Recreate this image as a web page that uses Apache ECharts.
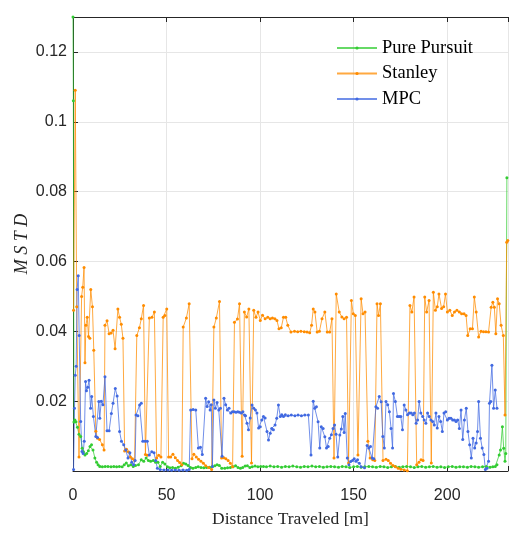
<!DOCTYPE html>
<html>
<head>
<meta charset="utf-8">
<script src="https://cdn.jsdelivr.net/npm/echarts@6/dist/echarts.min.js"></script>
<style>
  html, body { margin: 0; padding: 0; background: #fff; overflow: hidden; }
  #chart { width: 511px; height: 533px; }
</style>
</head>
<body>
<div id="chart"></div>
<script>
// Pure Pursuit tracking error (MSTD) vs distance travelled
const ppDist = [0, 0.2, 0.5, 1.0, 1.6, 2.4, 3.2, 4.1, 4.9, 5.6, 6.4, 7.3, 8.2, 9.1, 9.9, 10.7, 11.7, 12.6, 13.4, 14.3,
  15.7, 17.2, 18.7, 20.3, 21.8, 23.3, 24.8, 26.3, 27.4, 28.5, 29.6, 30.9, 32.2, 33.4, 35.0, 36.5, 37.8, 39.1, 40.3,
  41.5, 42.9, 44.1, 45.4, 46.6, 47.9, 49.1, 50.5, 51.7, 53.2, 54.7, 56.2, 57.8, 59.1, 60.3, 61.5, 62.8, 64.1, 65.6,
  66.9, 68.4, 69.9, 71.4, 73.0, 74.5, 75.8, 77.0, 78.2, 79.5, 81.1, 82.6, 84.1, 85.6, 86.9, 88.2, 89.5, 90.7, 92.0,
  93.2, 94.5, 95.8, 97.3, 98.8, 100.3, 101.8,
  103.4, 105.4, 107.4, 109.4, 111.5, 113.5, 115.5, 117.5, 119.6, 121.6,
  123.6, 125.6, 127.7, 129.7, 131.7, 133.8, 135.8, 137.8, 139.8, 141.9,
  143.9, 145.9, 147.9, 150.0, 152.0, 154.0, 156.0, 158.1, 160.1, 162.1,
  164.2, 166.2, 168.2, 170.2, 172.3, 174.3, 176.3, 178.3, 180.4, 182.4,
  184.4, 186.4, 188.5, 190.5, 192.5, 194.6, 196.6, 198.6, 200.6, 202.7,
  204.7, 206.7, 208.7, 210.8, 212.8, 214.8, 216.8, 218.9, 220.9, 222.9,
  224.4, 225.7, 226.6, 227.8, 228.5, 229.5, 230.2, 230.9, 231.3, 231.9];
const ppVal = [0.130, 0.106, 0.014, 0.0146, 0.0141, 0.0125, 0.0105, 0.0099, 0.0065, 0.0055, 0.0046, 0.0050, 0.0058,
  0.0070, 0.0075, 0.0060, 0.0037, 0.0025, 0.0018, 0.0013,
  0.0012, 0.0013, 0.0013, 0.0012, 0.0013, 0.0012, 0.0013, 0.0012, 0.0018, 0.0023, 0.0015, 0.0018, 0.0013, 0.0016,
  0.0018, 0.0032, 0.0028, 0.0037, 0.0030,
  0.0028, 0.0030, 0.0025, 0.0025, 0.0013, 0.0025, 0.0020, 0.0012, 0.0009, 0.0010, 0.0008, 0.0011, 0.0015, 0.0022,
  0.0020, 0.0016, 0.0010, 0.0008, 0.0010,
  0.0012, 0.0010, 0.0009, 0.0010, 0.0011, 0.0012, 0.0015, 0.0018, 0.0016, 0.0008, 0.0008, 0.0009, 0.0010, 0.0012,
  0.0015, 0.0010, 0.0008, 0.0010, 0.0014,
  0.0015, 0.0010, 0.0012, 0.0014, 0.0012, 0.0013, 0.0013,
  0.0012, 0.0014, 0.0012, 0.0013, 0.0011, 0.0013, 0.0012, 0.0014, 0.0012, 0.0011,
  0.0013, 0.0012, 0.0014, 0.0012, 0.0013, 0.0011, 0.0012, 0.0013, 0.0012, 0.0011,
  0.0013, 0.0012, 0.0010, 0.0012, 0.0013, 0.0011, 0.0012, 0.0013, 0.0012, 0.0011,
  0.0013, 0.0012, 0.0010, 0.0012, 0.0013, 0.0011, 0.0012, 0.0013, 0.0012, 0.0010,
  0.0012, 0.0013, 0.0011, 0.0012, 0.0013, 0.0011, 0.0012, 0.0010, 0.0012, 0.0013,
  0.0011, 0.0012, 0.0012, 0.0011, 0.0013, 0.0012, 0.0011, 0.0012, 0.0013, 0.0011,
  0.0012, 0.0013, 0.0018, 0.0046, 0.0060, 0.0127, 0.0065, 0.0028, 0.0050, 0.084];

// Stanley controller
const stDist = [0.3, 1.2, 2.0, 3.2, 4.6, 5.2, 5.9, 6.4, 6.9, 7.6, 8.3, 9.0, 9.5, 10.4, 11.1, 12.2, 13.1, 14.2, 15.7,
  16.6, 17.1, 18.2, 19.3, 20.4, 21.4, 22.5, 24.0, 24.9, 25.8, 26.7, 27.6, 28.6, 29.6, 30.7, 31.8, 32.9, 34.1, 35.5,
  36.5, 37.7, 38.7, 39.7, 40.8, 42.2, 43.5, 44.7, 45.8, 47.0, 48.2, 49.1, 50.1, 51.1, 52.2, 53.4, 54.7, 55.9, 57.0,
  58.2, 58.9, 60.6, 62.1, 63.6, 64.6, 65.9, 67.1, 68.4, 69.7, 70.9, 72.5, 74.1, 75.3, 76.6, 78.3, 79.4, 80.6, 81.7,
  82.9, 84.1, 85.3, 86.3, 87.9, 89.0, 90.4, 91.6, 92.8, 94.0, 95.4, 96.6, 97.8, 98.9, 100.1, 101.3, 102.7, 104.1,
  105.4, 106.6, 107.9, 109.0, 110.1, 111.3, 112.5, 113.7, 114.8, 116.5, 118.4, 120.1, 121.8, 123.6, 125.1, 126.5,
  127.5, 128.4, 129.3, 130.5, 131.7, 133.1, 134.6, 135.9, 137.2, 138.4, 139.5, 140.7, 142.3, 143.7, 144.9, 146.2,
  147.3, 148.8, 149.8, 150.9, 152.3, 154.0, 155.0, 156.1, 157.6, 158.8, 160.2, 161.3, 162.5, 163.3, 164.3, 165.7,
  167.3, 168.5, 169.7, 171.0, 172.3, 173.8, 175.3, 177.0, 178.7, 180.1, 181.1, 182.3, 183.7, 184.9, 186.0, 187.1,
  188.0, 189.0, 190.3, 191.5, 192.6, 193.7, 194.7, 195.6, 197.0, 198.1, 199.1, 200.1, 201.4, 202.7, 203.9, 205.2,
  206.5, 207.7, 209.0, 210.1, 211.0, 212.3, 213.5, 214.5, 215.5, 216.8, 218.1, 219.4, 220.7, 222.1, 223.5, 224.4,
  225.2, 226.0, 226.9, 227.8, 228.8, 230.0, 230.9, 231.8, 232.4];
const stVal = [0.046, 0.109, 0.047, 0.004, 0.050, 0.0526, 0.0583, 0.031, 0.0417, 0.044, 0.0385, 0.038, 0.052, 0.047,
  0.0346, 0.0114, 0.0094, 0.009, 0.0075,
  0.006, 0.0417, 0.043, 0.0393, 0.0395, 0.0403, 0.035, 0.0464, 0.044, 0.042, 0.038, 0.0057, 0.0062, 0.0055, 0.004,
  0.0035, 0.003, 0.0388, 0.041,
  0.0436, 0.0474, 0.0047, 0.0045, 0.0438, 0.0440, 0.0455, 0.0037, 0.0045, 0.004, 0.044, 0.0445, 0.0464, 0.004,
  0.0040, 0.0048, 0.0038, 0.0030, 0.0024,
  0.0018, 0.0412, 0.0438, 0.0479, 0.0035, 0.0048, 0.0040, 0.0034, 0.0028, 0.0022, 0.0015, 0.0010, 0.0004, 0.0412,
  0.0438, 0.0485, 0.0037, 0.0038, 0.0035,
  0.0030, 0.0022, 0.0012, 0.0426, 0.0435, 0.0479, 0.0042, 0.0455, 0.0441, 0.0464, 0.0023, 0.046, 0.044, 0.0455,
  0.0431, 0.0446, 0.0436, 0.0440,
  0.0436, 0.0438, 0.0436, 0.0431, 0.0407, 0.0410, 0.0440, 0.0440, 0.0417, 0.0398, 0.0400, 0.0399, 0.0400, 0.0399,
  0.0398, 0.0396,
  0.0417, 0.0464, 0.0455, 0.0398, 0.0400, 0.0436, 0.0455, 0.0398, 0.0398, 0.0436, 0.0037, 0.0507, 0.0455, 0.0441,
  0.0436, 0.0440,
  0.0023, 0.0488, 0.0450, 0.0445, 0.0046, 0.0493, 0.0450, 0.0455, 0.0085, 0.0037, 0.0032, 0.0030, 0.0479, 0.0445,
  0.0479, 0.0030,
  0.0034, 0.0030, 0.0022, 0.0016, 0.0012, 0.0008, 0.0005, 0.0003, 0.0001, 0.0474, 0.0455, 0.0498, 0.0018, 0.0025,
  0.0032, 0.0030,
  0.0498, 0.0455, 0.0488, 0.0023, 0.0512, 0.0460, 0.0470, 0.0507, 0.0465, 0.0470, 0.0507, 0.0455, 0.0460, 0.0445,
  0.0455, 0.0460,
  0.0455, 0.0450, 0.0450, 0.0445, 0.0388, 0.0407, 0.0407, 0.0498, 0.0455, 0.0384, 0.0400, 0.0399, 0.0399, 0.0398,
  0.0469, 0.0483,
  0.0469, 0.0393, 0.0493, 0.0479, 0.0417, 0.0388, 0.0160, 0.0655, 0.066];

// Model predictive control
const mpcDist = [0.3, 0.8, 1.2, 1.7, 2.2, 2.8, 3.3, 4.1, 4.8, 5.4, 6.0, 6.7, 7.2, 7.9, 8.6, 9.4, 10.0, 10.9, 12.2,
  13.1, 13.8, 14.3, 15.1, 16.0, 17.1, 18.2, 19.3, 20.5, 21.4, 22.6, 23.6, 24.9, 25.9, 27.1, 28.2, 29.4, 30.4, 31.4,
  32.4, 33.2, 33.7, 34.7, 35.6, 36.5, 37.3, 38.5, 39.7, 40.8, 42.1, 43.3, 44.2, 45.1, 46.6, 48.6, 50.7, 52.7, 54.7,
  56.7, 58.8, 60.8, 62.1, 62.9, 64.2, 65.6, 67.0, 68.1, 69.1, 70.9, 71.7, 72.5, 73.3, 73.9, 74.5, 75.3, 76.1, 77.0,
  77.9, 78.8, 79.7, 80.7, 81.6, 82.5, 83.4, 84.3, 85.2, 86.1, 87.1, 88.1, 89.0, 89.9, 90.8, 91.7, 92.2, 93.0, 93.8,
  94.7, 95.7, 96.6, 97.5, 98.3, 99.2, 100.1, 100.9, 101.8, 102.7, 103.7, 104.5, 105.4, 106.2, 107.1, 108.0, 108.9,
  109.8, 110.8, 111.6, 112.5, 113.5, 115.0, 116.7, 118.6, 120.3, 122.1, 123.9, 125.8, 127.2, 128.4, 129.2, 130.1,
  131.0, 131.9, 132.7, 133.7, 134.6, 135.5, 136.4, 137.2, 138.1, 139.0, 139.8, 140.6, 141.5, 142.6, 143.4, 144.2,
  144.9, 145.5, 146.6, 147.5, 148.4, 149.4, 150.3, 151.2, 152.1, 153.0, 154.0, 155.8, 157.2, 158.1, 159.0, 159.9,
  160.8, 161.9, 162.8, 163.7, 164.7, 165.6, 166.4, 167.3, 168.2, 169.1, 170.0, 170.8, 171.3, 172.3, 173.4, 174.3,
  175.2, 176.1, 177.0, 177.9, 178.8, 179.8, 180.7, 181.6, 182.5, 183.4, 184.2, 185.0, 185.9, 186.9, 187.7, 188.6,
  189.5, 190.4, 191.3, 192.2, 193.1, 194.0, 194.7, 195.6, 196.5, 197.4, 198.3, 199.2, 200.1, 201.0, 202.0, 202.9,
  203.8, 204.7, 205.6, 206.5, 207.4, 208.3, 209.2, 210.2, 211.1, 212.0, 212.9, 213.8, 214.7, 215.5, 216.2, 216.8,
  217.8, 218.7, 219.6, 220.4, 221.3, 222.1, 222.6, 223.3, 223.9, 224.8, 225.7, 226.6];
const mpcVal = [0.0004, 0.018, 0.0274, 0.030, 0.052, 0.0559, 0.0388, 0.0142, 0.0056, 0.0050, 0.0085, 0.0256, 0.0230,
  0.0240, 0.0260, 0.0180, 0.0213, 0.0156, 0.0099,
  0.0096, 0.0199, 0.0151, 0.0200, 0.0190, 0.0270, 0.0115, 0.0115, 0.0165, 0.0194, 0.0236, 0.0215, 0.0113, 0.0085,
  0.0075, 0.0060, 0.0037, 0.0052, 0.0025,
  0.0018, 0.0030, 0.0160, 0.0158, 0.0189, 0.0194, 0.0085, 0.0085, 0.0085, 0.0046, 0.0055, 0.0052, 0.0030, 0.0008,
  0.0004, 0.0003, 0.0003, 0.0002, 0.0003,
  0.0002, 0.0003, 0.0002, 0.0004, 0.0175, 0.0176, 0.0175, 0.0066, 0.0068, 0.0047, 0.0208, 0.0185, 0.0198, 0.0175,
  0.0190, 0.0013, 0.0203, 0.0180, 0.0196,
  0.0175, 0.0180, 0.0042, 0.0208, 0.0190, 0.0175, 0.0180, 0.0166, 0.0170, 0.0170, 0.0168, 0.0170, 0.0168, 0.0166,
  0.0170, 0.0160, 0.0158, 0.0137, 0.0118,
  0.0152, 0.0189, 0.0180, 0.0175, 0.0166, 0.0123, 0.0127, 0.0146, 0.0156, 0.0152, 0.0113, 0.0089, 0.0108, 0.0122,
  0.0118, 0.0132, 0.0151,
  0.0189, 0.0156, 0.0161, 0.0156, 0.0161, 0.0158, 0.0160, 0.0158, 0.0160, 0.0158, 0.0160, 0.0160, 0.0046, 0.0200,
  0.0180, 0.0184,
  0.0141, 0.0066, 0.0127, 0.0122, 0.0098, 0.0066, 0.0070, 0.0094, 0.0104, 0.0122, 0.0132, 0.0105, 0.0040, 0.0103,
  0.0120, 0.0156,
  0.0110, 0.0165, 0.0037, 0.0018, 0.0027, 0.0030, 0.0035, 0.0028, 0.0032, 0.0022, 0.0012, 0.0009, 0.0073, 0.0066,
  0.0070, 0.0037,
  0.0035, 0.0184, 0.0180, 0.0213, 0.0198, 0.0099, 0.0066, 0.0199, 0.0190, 0.0170, 0.0122, 0.0066, 0.0222, 0.0199,
  0.0156, 0.0156,
  0.0156, 0.0118, 0.0189, 0.0175, 0.0161, 0.0166, 0.0166, 0.0161, 0.0166, 0.0137, 0.0146, 0.0199, 0.0166, 0.0156,
  0.0146, 0.0137,
  0.0166, 0.0156, 0.0146, 0.0142, 0.0132, 0.0166, 0.0123, 0.0156, 0.0142, 0.0113, 0.0166, 0.0170, 0.0146, 0.0151,
  0.0151, 0.0146,
  0.0146, 0.0142, 0.0146, 0.0122, 0.0175, 0.0090, 0.0146, 0.0180, 0.0113, 0.0075, 0.0037, 0.0094, 0.0066, 0.0080,
  0.0113, 0.0199,
  0.0094, 0.0066, 0.0047, 0.0004, 0.0008, 0.0028, 0.0194, 0.0199, 0.0303, 0.0180, 0.0232, 0.0180];

const seriesNames = ['Pure Pursuit', 'Stanley', 'MPC'];
const seriesColors = ['#33cc33', '#ff8c00', '#4169e1'];
const xTicks = [0, 50, 100, 150, 200];
const yTicks = [0.02, 0.04, 0.06, 0.08, 0.1, 0.12];

const X_MAX = 232.5;
const Y_MAX = 0.13;
const axisColor = '#262626';
const gridColor = '#e6e6e6';

function pairs(xs, ys) {
  const n = Math.min(xs.length, ys.length);
  const out = [];
  for (let i = 0; i < n; i++) out.push([xs[i], ys[i]]);
  return out;
}

function lineSeries(name, color, data) {
  return {
    name: name,
    type: 'line',
    data: data,
    symbol: 'circle',
    symbolSize: 3,
    showAllSymbol: true,
    clip: true,
    animation: false,
    lineStyle: { color: color, width: 1, opacity: 0.75 },
    itemStyle: { color: color },
    emphasis: { disabled: true }
  };
}

const chart = echarts.init(document.getElementById('chart'), null, { renderer: 'canvas', width: 511, height: 533 });

chart.setOption({
  animation: false,
  backgroundColor: '#ffffff',
  grid: { left: 73, right: 0, top: 17, bottom: 60, containLabel: false },
  legend: {
    orient: 'vertical',
    left: 336,
    top: 38,
    padding: 0,
    itemWidth: 40,
    itemHeight: 4,
    itemGap: 5.5,
    data: seriesNames,
    textStyle: { fontFamily: 'Liberation Serif', fontSize: 18.5, color: '#000', lineHeight: 20 }
  },
  xAxis: [
    {
      type: 'value',
      min: 0,
      max: X_MAX,
      interval: 50,
      position: 'bottom',
      name: 'Distance Traveled [m]',
      nameLocation: 'middle',
      nameGap: 39,
      nameMoveOverlap: false,
      nameTextStyle: { fontFamily: 'Liberation Serif', fontSize: 17.5, color: '#262626' },
      axisLine: { show: true, lineStyle: { color: axisColor, width: 1 } },
      axisTick: { show: true, inside: true, length: 5, lineStyle: { color: axisColor } },
      axisLabel: {
        margin: 17,
        fontFamily: 'Liberation Sans',
        fontSize: 16,
        color: '#262626',
        formatter: v => (xTicks.indexOf(v) >= 0 ? String(v) : '')
      },
      splitLine: { show: true, lineStyle: { color: gridColor, width: 1 } }
    },
    {
      type: 'value',
      min: 0,
      max: X_MAX,
      interval: 50,
      position: 'top',
      axisLine: { show: true, lineStyle: { color: axisColor, width: 1 } },
      axisTick: { show: true, inside: true, length: 5, lineStyle: { color: axisColor } },
      axisLabel: { show: false },
      splitLine: { show: false }
    }
  ],
  yAxis: {
    type: 'value',
    min: 0,
    max: Y_MAX,
    interval: 0.02,
    name: 'M S T D',
    nameLocation: 'middle',
    nameRotate: 90,
    nameGap: 42,
    nameMoveOverlap: false,
    nameTextStyle: { fontFamily: 'Liberation Serif', fontStyle: 'italic', fontSize: 18, color: '#262626' },
    axisLine: { show: true, lineStyle: { color: axisColor, width: 1 } },
    axisTick: { show: true, inside: true, length: 5, lineStyle: { color: axisColor } },
    axisLabel: {
      margin: 6,
      fontFamily: 'Liberation Sans',
      fontSize: 16,
      color: '#262626',
      formatter: v => {
        const t = yTicks.find(k => Math.abs(k - v) < 1e-9);
        return t === undefined ? '' : String(t);
      }
    },
    splitLine: { show: true, lineStyle: { color: gridColor, width: 1 } }
  },
  series: [
    lineSeries(seriesNames[0], seriesColors[0], pairs(ppDist, ppVal)),
    lineSeries(seriesNames[1], seriesColors[1], pairs(stDist, stVal)),
    lineSeries(seriesNames[2], seriesColors[2], pairs(mpcDist, mpcVal))
  ]
});
</script>
</body>
</html>
